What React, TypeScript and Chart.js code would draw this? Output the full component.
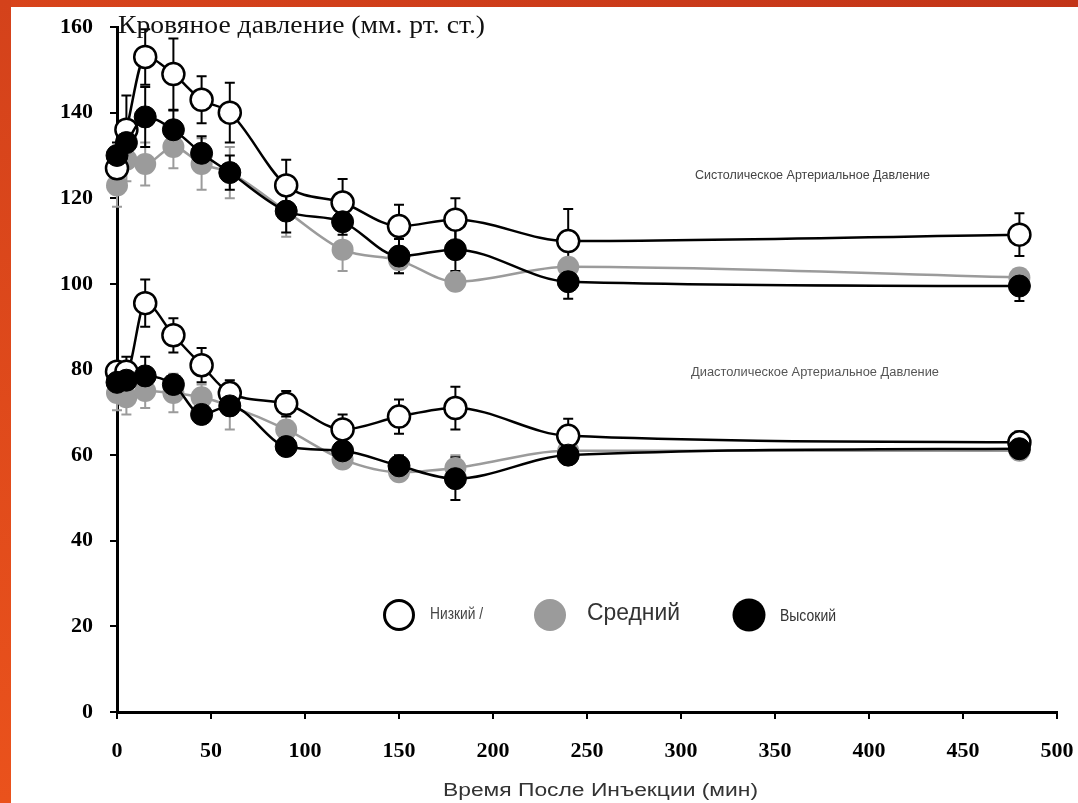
import React, { useEffect, useRef } from "react";
import { Chart, registerables } from "chart.js";

Chart.register(...registerables);

// ---- data ----
const times = [0, 5, 15, 30, 45, 60, 90, 120, 150, 180, 240, 480];

const sysLow = [127, 136, 153, 149, 143, 140, 123, 119, 113.5, 115, 110, 111.5];
const sysLowErr = [3, 8, 6.5, 8.3, 5.5, 7, 6, 5.5, 5, 5, 7.5, 5];
const sysMed = [123, 129, 128, 132, 128, 126, 117, 108, 105.5, 100.5, 104, 101.5];
const sysMedErr = [5, 5, 5, 5, 6, 6, 6, 5, 3, 2, 2, 2];
const sysHigh = [130, 133, 139, 136, 130.5, 126, 117, 114.5, 106.5, 108, 100.5, 99.5];
const sysHighErr = [3, 4, 7, 4.5, 4, 4, 5, 3, 4, 5, 4, 3.5];

const diaLow = [79.5, 79.5, 95.5, 88, 81, 74.5, 72, 66, 69, 71, 64.5, 63];
const diaLowErr = [2, 3.5, 5.5, 4, 4, 3, 3, 3.5, 4, 5, 4, 2.5];
const diaMed = [74.5, 73.5, 75, 74.5, 73.5, 71.5, 66, 59, 56, 57, 61, 61];
const diaMedErr = [4, 4, 4, 4.5, 3, 5.5, 4, 2, 2, 3, 2, 2];
const diaHigh = [77, 77.5, 78.5, 76.5, 69.5, 71.5, 62, 61, 57.5, 54.5, 60, 61.5];
const diaHighErr = [2, 3, 4.5, 2, 2, 2, 2, 2, 2.5, 5, 2, 2];

const xTicks = [0, 50, 100, 150, 200, 250, 300, 350, 400, 450, 500];
const yTicks = [0, 20, 40, 60, 80, 100, 120, 140, 160];

const seriesNames = ["Низкий /", "Средний", "Высокий"];
const titleText = "Кровяное давление (мм. рт. ст.)";
const xTitleText = "Время После Инъекции (мин)";
const sysLabel = "Систолическое Артериальное Давление";
const diaLabel = "Диастолическое Артериальное Давление";

const GRAY = "#9b9b9b";
const SANS = '"Liberation Sans", Arial, sans-serif';
const SERIF = '"Liberation Serif", "Times New Roman", serif';

const pts = (vals: number[]) => vals.map((v, i) => ({ x: times[i], y: v }));

function fitText(ctx: CanvasRenderingContext2D, text: string, left: number, y: number, font: string, width: number, color: string) {
  ctx.save();
  ctx.font = font;
  ctx.fillStyle = color;
  ctx.textBaseline = "middle";
  ctx.textAlign = "left";
  const w = ctx.measureText(text).width;
  ctx.translate(left, y);
  ctx.scale(width / w, 1);
  ctx.fillText(text, 0, 0);
  ctx.restore();
}

const bgPlugin = {
  id: "bg",
  beforeDraw(chart: any) {
    const ctx = chart.ctx as CanvasRenderingContext2D;
    const W = chart.width, H = chart.height;
    ctx.save();
    ctx.fillStyle = "#ffffff";
    ctx.fillRect(0, 0, W, H);
    const gTop = ctx.createLinearGradient(0, 0, W, 0);
    gTop.addColorStop(0, "#d8441b");
    gTop.addColorStop(1, "#c23418");
    ctx.fillStyle = gTop;
    ctx.fillRect(0, 0, W, 7);
    const gLeft = ctx.createLinearGradient(0, 0, 0, H);
    gLeft.addColorStop(0, "#d4421b");
    gLeft.addColorStop(1, "#ea521c");
    ctx.fillStyle = gLeft;
    ctx.fillRect(0, 0, 11, H);
    ctx.restore();
  },
};

const errorBarPlugin = {
  id: "errbars",
  beforeDatasetsDraw(chart: any) {
    const ctx = chart.ctx as CanvasRenderingContext2D;
    const xs = chart.scales.x, ys = chart.scales.y;
    const n = chart.data.datasets.length;
    for (let d = n - 1; d >= 0; d--) {
      const ds = chart.data.datasets[d];
      const errs: number[] = ds.errors;
      if (!errs) continue;
      ctx.save();
      ctx.strokeStyle = ds.errColor;
      ctx.lineWidth = 2;
      ds.data.forEach((p: any, i: number) => {
        const e = errs[i];
        const x = xs.getPixelForValue(p.x);
        const yT = ys.getPixelForValue(p.y + e);
        const yB = ys.getPixelForValue(p.y - e);
        ctx.beginPath();
        ctx.moveTo(x, yT); ctx.lineTo(x, yB);
        ctx.moveTo(x - 5, yT); ctx.lineTo(x + 5, yT);
        ctx.moveTo(x - 5, yB); ctx.lineTo(x + 5, yB);
        ctx.stroke();
      });
      ctx.restore();
    }
  },
};

const textPlugin = {
  id: "texts",
  afterDraw(chart: any) {
    const ctx = chart.ctx as CanvasRenderingContext2D;
    fitText(ctx, titleText, 118, 26, `25px ${SERIF}`, 367, "#111");
    fitText(ctx, sysLabel, 695, 176, `12px ${SANS}`, 235, "#444");
    fitText(ctx, diaLabel, 691, 373, `12px ${SANS}`, 248, "#555");
    fitText(ctx, xTitleText, 443, 791, `18px ${SANS}`, 315, "#333");

    // legend
    ctx.save();
    ctx.beginPath();
    ctx.arc(399, 615, 14.5, 0, Math.PI * 2);
    ctx.fillStyle = "#fff"; ctx.fill();
    ctx.lineWidth = 3; ctx.strokeStyle = "#000"; ctx.stroke();
    ctx.beginPath();
    ctx.arc(550, 615, 16, 0, Math.PI * 2);
    ctx.fillStyle = GRAY; ctx.fill();
    ctx.beginPath();
    ctx.arc(749, 615, 16.5, 0, Math.PI * 2);
    ctx.fillStyle = "#000"; ctx.fill();
    ctx.restore();
    fitText(ctx, seriesNames[0], 430, 615, `16px ${SANS}`, 53, "#444");
    fitText(ctx, seriesNames[1], 587, 614, `23px ${SANS}`, 93, "#333");
    fitText(ctx, seriesNames[2], 780, 616, `17px ${SANS}`, 56, "#333");
  },
};

function makeDs(vals: number[], errs: number[], kind: number) {
  const base: any = {
    data: pts(vals),
    errors: errs,
    borderWidth: 2.5,
    pointRadius: 11,
    pointHoverRadius: 11,
    cubicInterpolationMode: "monotone",
    clip: false,
  };
  if (kind === 0) {
    return { ...base, label: seriesNames[0], order: 1, borderColor: "#000", backgroundColor: "#fff", pointBackgroundColor: "#fff", pointBorderColor: "#000", pointBorderWidth: 2.5, errColor: "#000" };
  }
  if (kind === 1) {
    return { ...base, label: seriesNames[1], order: 2, borderColor: GRAY, backgroundColor: GRAY, pointBackgroundColor: GRAY, pointBorderColor: GRAY, pointBorderWidth: 0, errColor: GRAY };
  }
  return { ...base, label: seriesNames[2], order: 0, borderColor: "#000", backgroundColor: "#000", pointBackgroundColor: "#000", pointBorderColor: "#000", pointBorderWidth: 1, errColor: "#000" };
}

export default function App() {
  const ref = useRef<HTMLCanvasElement | null>(null);
  useEffect(() => {
    if (!ref.current) return;
    const tickFont = { family: SERIF, size: 22, weight: "bold" as const };
    const chart = new Chart(ref.current, {
      type: "line",
      data: {
        datasets: [
          makeDs(sysHigh, sysHighErr, 2),
          makeDs(diaHigh, diaHighErr, 2),
          makeDs(sysLow, sysLowErr, 0),
          makeDs(diaLow, diaLowErr, 0),
          makeDs(sysMed, sysMedErr, 1),
          makeDs(diaMed, diaMedErr, 1),
        ] as any,
      },
      options: {
        animation: false,
        responsive: false,
        devicePixelRatio: 1,
        layout: { padding: { left: 0, top: 27, right: 21, bottom: 0 } },
        plugins: { legend: { display: false }, tooltip: { enabled: false }, title: { display: false } },
        scales: {
          x: {
            type: "linear",
            min: 0,
            max: 500,
            afterBuildTicks: (s: any) => { s.ticks = xTicks.map((v) => ({ value: v })); },
            afterFit: (s: any) => { s.height = 91; s.paddingLeft = 0; s.paddingRight = 0; },
            ticks: { font: tickFont, color: "#000", padding: 19, maxRotation: 0, autoSkip: false },
            grid: { drawOnChartArea: false, drawTicks: true, tickLength: 7, color: "#000", lineWidth: 2 },
            border: { display: true, color: "#000", width: 3 },
          },
          y: {
            type: "linear",
            min: 0,
            max: 160,
            afterBuildTicks: (s: any) => { s.ticks = yTicks.map((v) => ({ value: v })); },
            afterFit: (s: any) => { s.width = 117; s.paddingTop = 0; s.paddingBottom = 0; },
            ticks: { font: tickFont, color: "#000", padding: 17, autoSkip: false },
            grid: { drawOnChartArea: false, drawTicks: true, tickLength: 7, color: "#000", lineWidth: 2 },
            border: { display: true, color: "#000", width: 3 },
          },
        },
      } as any,
      plugins: [bgPlugin, errorBarPlugin, textPlugin],
    });
    return () => chart.destroy();
  }, []);
  return (
    <div style={{ position: "absolute", left: 0, top: 0, width: 1078, height: 803, overflow: "hidden" }}>
      <canvas ref={ref} width={1078} height={803} style={{ display: "block", width: 1078, height: 803 }} />
    </div>
  );
}
